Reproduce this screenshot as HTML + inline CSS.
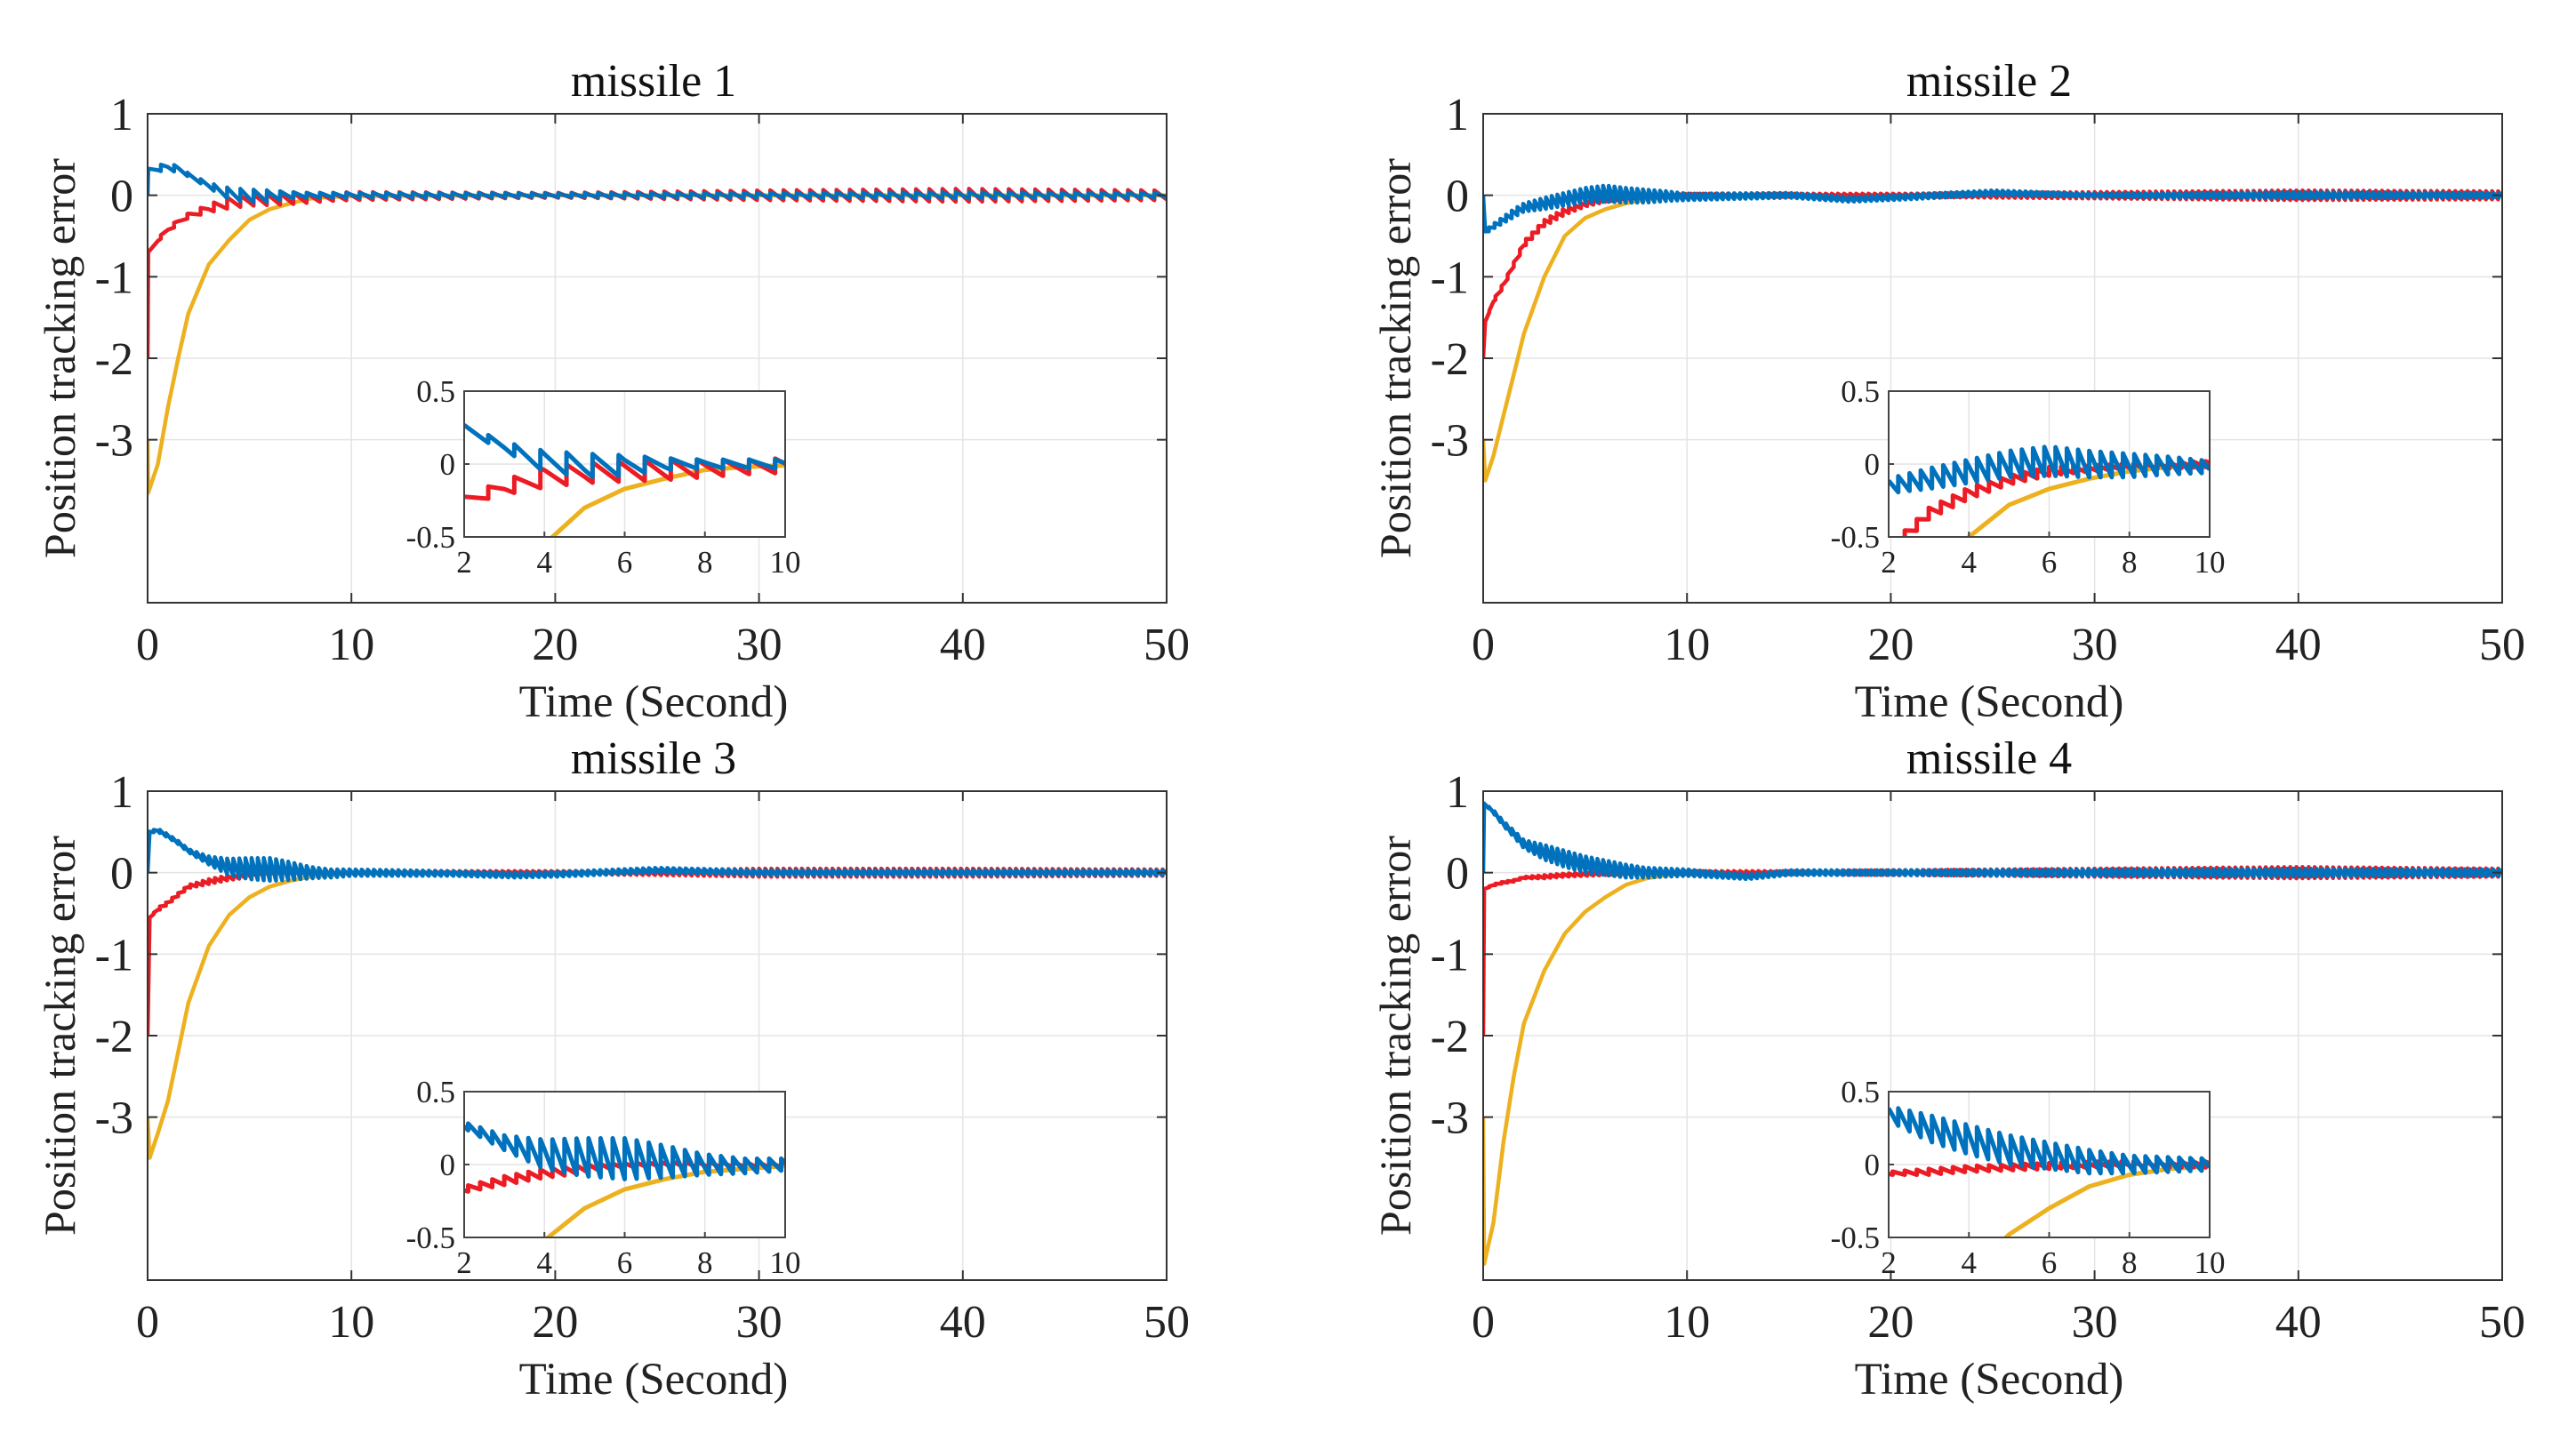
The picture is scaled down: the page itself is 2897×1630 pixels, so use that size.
<!DOCTYPE html>
<html><head><meta charset="utf-8">
<style>
html,body{margin:0;padding:0;background:#fff;}
svg{display:block;font-family:"Liberation Serif",serif;}
</style></head>
<body>
<svg id="fig" width="2897" height="1630" viewBox="0 0 2897 1630" xmlns="http://www.w3.org/2000/svg">
<rect width="2897" height="1630" fill="#fff"/>
</svg>
<script>
// ---- data: per panel sample times, series means, ripple amplitudes, ripple periods ----
const panelTitles = ["missile 1", "missile 2", "missile 3", "missile 4"];
const xTicks = [0, 10, 20, 30, 40, 50];
const yTicks = [1, 0, -1, -2, -3];
const insetXTicks = [2, 4, 6, 8, 10];
const insetYTicks = [0.5, 0, -0.5];
const insetYLabels = ["0.5", "0", "-0.5"];

const t1 = [0,0.03,0.5,1,1.5,2,3,4,5,6,7,8,9,10,20,30,40,50];
const blue1 = [0,0.3,0.33,0.35,0.32,0.25,0.12,0.02,-0.01,-0.01,0,0,0,0,0,0,0,0];
const blueR1 = [0,0.03,0.04,0.04,0.04,0.02,0.03,0.07,0.08,0.07,0.04,0.03,0.03,0.03,0.02,0.03,0.04,0.03];
const red1 = [-2,-0.7,-0.55,-0.42,-0.33,-0.25,-0.16,-0.09,-0.06,-0.05,-0.04,-0.03,-0.02,-0.01,0,0,0,0];
const redR1 = [0,0,0.02,0.03,0.03,0.03,0.05,0.07,0.07,0.07,0.07,0.06,0.05,0.05,0.03,0.06,0.08,0.06];
const yellow1 = [-3,-3.65,-3.3,-2.6,-2.0,-1.45,-0.85,-0.55,-0.3,-0.17,-0.1,-0.04,-0.02,-0.01,0,0,0,0];
const periods1 = [0.65, 0.65];

const t2 = [0,0.1,0.5,1,1.5,2,3,4,5,6,7,8,9,10,15,18,20,25,30,40,50];
const blue2 = [0,-0.45,-0.38,-0.3,-0.22,-0.15,-0.1,-0.05,0,0.02,0,-0.01,-0.01,-0.02,0,-0.05,-0.03,0.03,0,0,0];
const blueR2 = [0,0.02,0.03,0.04,0.05,0.05,0.07,0.08,0.09,0.1,0.09,0.08,0.06,0.04,0.03,0.03,0.03,0.03,0.02,0.04,0.03];
const red2 = [-2,-1.55,-1.3,-1.1,-0.85,-0.6,-0.34,-0.2,-0.11,-0.05,-0.03,-0.02,-0.01,0,0,0,0,0,0,0,0];
const redR2 = [0,0,0.02,0.03,0.03,0.04,0.04,0.04,0.03,0.03,0.02,0.02,0.02,0.02,0.02,0.02,0.02,0.03,0.04,0.06,0.05];
const yellow2 = [-3,-3.5,-3.2,-2.7,-2.2,-1.7,-1.0,-0.5,-0.28,-0.17,-0.1,-0.05,-0.02,-0.01,0,0,0,0,0,0,0];
const periods2 = [0.28, 0.3];

const t3 = [0,0.1,0.5,1,1.5,2,3,4,5,6,7,8,9,10,15,18,20,25,30,40,50];
const blue3 = [0,0.5,0.52,0.45,0.37,0.27,0.15,0.07,0.05,0.04,0.02,0,-0.01,0,-0.01,-0.03,-0.02,0.03,0,0,0];
const blueR3 = [0,0.01,0.02,0.02,0.02,0.02,0.05,0.1,0.13,0.14,0.11,0.07,0.05,0.04,0.03,0.03,0.03,0.03,0.03,0.03,0.03];
const red3 = [-2,-0.55,-0.45,-0.37,-0.27,-0.17,-0.11,-0.06,-0.03,-0.01,0,0,0,0,0,0,0,0,0,0,0];
const redR3 = [0,0,0.02,0.02,0.02,0.02,0.03,0.03,0.03,0.02,0.02,0.02,0.02,0.02,0.02,0.02,0.02,0.03,0.05,0.05,0.04];
const yellow3 = [-3,-3.5,-3.2,-2.8,-2.2,-1.6,-0.9,-0.52,-0.3,-0.17,-0.1,-0.05,-0.03,-0.01,0,0,0,0,0,0,0];
const periods3 = [0.3, 0.3];

const t4 = [0,0.05,0.5,1,1.5,2,3,4,5,6,7,8,9,10,13,15,20,30,40,50];
const blue4 = [0,0.85,0.75,0.6,0.48,0.35,0.25,0.17,0.1,0.06,0.02,0,0,0,-0.05,0,0,0,0,0];
const blueR4 = [0,0,0.02,0.03,0.04,0.05,0.09,0.1,0.1,0.09,0.08,0.06,0.05,0.04,0.03,0.03,0.03,0.04,0.05,0.04];
const red4 = [-2,-0.2,-0.15,-0.12,-0.1,-0.06,-0.05,-0.03,-0.02,-0.01,0,0,0,0,0,0,0,0,0,0];
const redR4 = [0,0,0.01,0.01,0.01,0.01,0.02,0.02,0.02,0.02,0.02,0.02,0.02,0.02,0.02,0.02,0.03,0.05,0.07,0.05];
const yellow4 = [-3,-4.8,-4.3,-3.3,-2.5,-1.85,-1.2,-0.75,-0.48,-0.3,-0.15,-0.07,-0.03,-0.01,0,0,0,0,0,0];
const periods4 = [0.28, 0.3];

const panelData = [
  {t:t1, blue:blue1, blueR:blueR1, red:red1, redR:redR1, yellow:yellow1, per:periods1},
  {t:t2, blue:blue2, blueR:blueR2, red:red2, redR:redR2, yellow:yellow2, per:periods2},
  {t:t3, blue:blue3, blueR:blueR3, red:red3, redR:redR3, yellow:yellow3, per:periods3},
  {t:t4, blue:blue4, blueR:blueR4, red:red4, redR:redR4, yellow:yellow4, per:periods4}
];

// ---- layout ----
const NS = "http://www.w3.org/2000/svg";
const svg = document.getElementById("fig");
const layout = [
  {L:166, T:128, inL:522, inT:440},
  {L:1668, T:128, inL:2124, inT:440},
  {L:166, T:890, inL:522, inT:1228},
  {L:1668, T:890, inL:2124, inT:1228}
];
const PW = 1146, PH = 550, IW = 361, IH = 164;
const COL = {blue:"#0072BD", red:"#EC1C24", yellow:"#EDB120"};

function mk(tag, attrs, parent){
  const e = document.createElementNS(NS, tag);
  for (const k in attrs) e.setAttribute(k, attrs[k]);
  (parent||svg).appendChild(e);
  return e;
}
function interp(t, ts, vs){
  if (t <= ts[0]) return vs[0];
  for (let i=1;i<ts.length;i++){
    if (t <= ts[i]) { const f=(t-ts[i-1])/(ts[i]-ts[i-1]); return vs[i-1]+f*(vs[i]-vs[i-1]); }
  }
  return vs[vs.length-1];
}
function seriesPoints(ts, vs, rs, P, t0, t1e){
  const pts = [];
  const times = new Set();
  ts.forEach(t=>{ if(t>=t0 && t<=t1e) times.add(t); });
  if (P) for (let k=Math.ceil(t0/P); k*P<=t1e; k++) times.add(+(k*P).toFixed(6));
  times.add(t0); times.add(t1e);
  const arr = [...times].sort((a,b)=>a-b);
  arr.forEach(t=>{
    const m = interp(t, ts, vs);
    const a = rs ? interp(t, ts, rs) : 0;
    if (P && a > 0){
      const ph = (t % P) / P;
      if (ph < 1e-6 || ph > 1-1e-6){ pts.push([t, m-a]); pts.push([t, m+a]); }
      else pts.push([t, m + a*(1-2*ph)]);
    } else pts.push([t, m]);
  });
  return pts;
}

panelData.forEach((d, pi)=>{
  const lay = layout[pi];
  const g = mk("g", {});
  
  
  const xs = v => lay.L + (v/50)*PW;
  const ys = v => lay.T + (1 - v)/6*PH;
  xTicks.forEach(v=>{ if(v>0&&v<50){ const l=mk("line",{x1:xs(v),x2:xs(v),y1:lay.T,y2:lay.T+PH,stroke:"#e4e4e4","stroke-width":1.5},g);
      }});
  yTicks.forEach(v=>{ if(v<1){ const l=mk("line",{x1:lay.L,x2:lay.L+PW,y1:ys(v),y2:ys(v),stroke:"#e4e4e4","stroke-width":1.5},g);
      }});
  const cp = mk("clipPath", {id:"cp"+pi}, g);
  mk("rect", {x:lay.L, y:lay.T, width:PW, height:PH}, cp);
  const sg = mk("g", {"clip-path":"url(#cp"+pi+")"}, g);
   
  const series = [
    ["yellow", d.yellow, null, 0],
    ["red", d.red, d.redR, d.per[1]],
    ["blue", d.blue, d.blueR, d.per[0]]
  ];
  series.forEach(s=>{
    const pts = seriesPoints(d.t, s[1], s[2], s[3], 0, 50);
    const p = mk("polyline", {points: pts.map(q=>xs(q[0]).toFixed(1)+","+ys(q[1]).toFixed(1)).join(" "),
      fill:"none", stroke:COL[s[0]], "stroke-width":4.5, "stroke-linejoin":"round"}, sg);
    
    
  });
  const box = mk("rect", {x:lay.L, y:lay.T, width:PW, height:PH, fill:"none", stroke:"#333", "stroke-width":2}, g);
   
  xTicks.forEach(v=>{
    mk("line",{x1:xs(v),x2:xs(v),y1:lay.T+PH,y2:lay.T+PH-11,stroke:"#333","stroke-width":2},g);
    mk("line",{x1:xs(v),x2:xs(v),y1:lay.T,y2:lay.T+11,stroke:"#333","stroke-width":2},g);
    const tx = mk("text",{x:xs(v), y:lay.T+PH+64, "text-anchor":"middle","font-size":52, fill:"#222"},g);
    tx.textContent = v;
     
  });
  yTicks.forEach(v=>{
    mk("line",{x1:lay.L,x2:lay.L+11,y1:ys(v),y2:ys(v),stroke:"#333","stroke-width":2},g);
    mk("line",{x1:lay.L+PW,x2:lay.L+PW-11,y1:ys(v),y2:ys(v),stroke:"#333","stroke-width":2},g);
    const tx = mk("text",{x:lay.L-16, y:ys(v)+18, "text-anchor":"end","font-size":52, fill:"#222"},g);
    tx.textContent = v;
     
  });
  const title = mk("text",{x:lay.L+PW/2-4, y:lay.T-20, "text-anchor":"middle","font-size":52, fill:"#111"},g);
  title.textContent = panelTitles[pi];
   
  const xl = mk("text",{x:lay.L+PW/2-4, y:lay.T+PH+128, "text-anchor":"middle","font-size":51, fill:"#222"},g);
  xl.textContent = "Time (Second)";
   
  const yl = mk("text",{x:0, y:0, "text-anchor":"middle","font-size":50, fill:"#222",
    transform:"translate("+(lay.L-82)+","+(lay.T+PH/2)+") rotate(-90)"},g);
  yl.textContent = "Position tracking error";
   

  // ---- inset ----
  const ig = mk("g", {}, g);
   
  const ix = v => lay.inL + (v-2)/8*IW;
  const iy = v => lay.inT + (0.5 - v)*IH;
  mk("rect",{x:lay.inL, y:lay.inT, width:IW, height:IH, fill:"#fff"}, ig);
  insetXTicks.forEach(v=>{ if(v>2&&v<10) mk("line",{x1:ix(v),x2:ix(v),y1:lay.inT,y2:lay.inT+IH,stroke:"#e4e4e4","stroke-width":1.5},ig); });
  mk("line",{x1:lay.inL,x2:lay.inL+IW,y1:iy(0),y2:iy(0),stroke:"#e4e4e4","stroke-width":1.5},ig);
  const icp = mk("clipPath", {id:"icp"+pi}, ig);
  mk("rect", {x:lay.inL, y:lay.inT, width:IW, height:IH}, icp);
  const isg = mk("g", {"clip-path":"url(#icp"+pi+")"}, ig);
  series.forEach(s=>{
    const pts = seriesPoints(d.t, s[1], s[2], s[3], 2, 10);
    const p = mk("polyline", {points: pts.map(q=>ix(q[0]).toFixed(1)+","+iy(q[1]).toFixed(1)).join(" "),
      fill:"none", stroke:COL[s[0]], "stroke-width":5, "stroke-linejoin":"round"}, isg);
    
    
  });
  mk("rect",{x:lay.inL, y:lay.inT, width:IW, height:IH, fill:"none", stroke:"#444", "stroke-width":2}, ig);
  insetXTicks.forEach(v=>{
    mk("line",{x1:ix(v),x2:ix(v),y1:lay.inT+IH,y2:lay.inT+IH-6,stroke:"#444","stroke-width":2},ig);
    const tx = mk("text",{x:ix(v), y:lay.inT+IH+40, "text-anchor":"middle","font-size":35, fill:"#222"},ig);
    tx.textContent = v;
     
  });
  insetYTicks.forEach((v,i)=>{
    mk("line",{x1:lay.inL,x2:lay.inL+6,y1:iy(v),y2:iy(v),stroke:"#444","stroke-width":2},ig);
    const tx = mk("text",{x:lay.inL-10, y:iy(v)+12, "text-anchor":"end","font-size":35, fill:"#222"},ig);
    tx.textContent = insetYLabels[i];
     
  });
});
</script>
</body></html>
